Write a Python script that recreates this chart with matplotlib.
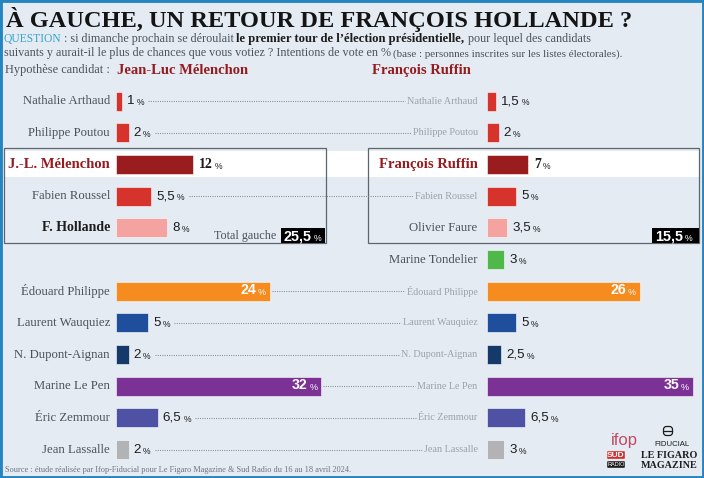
import numpy as np
import matplotlib
matplotlib.use("Agg")
import matplotlib.pyplot as plt
from matplotlib.patches import Rectangle, FancyBboxPatch

W, H = 704, 478

SANS = "Liberation Sans"
SERIF = "Liberation Serif"

# ─────────────────────────────────────────────
# DATA
# ─────────────────────────────────────────────
left_candidate  = "Jean-Luc Mélenchon"
right_candidate = "François Ruffin"

left_names = ["Nathalie Arthaud", "Philippe Poutou", "J.-L. Mélenchon", "Fabien Roussel",
              "F. Hollande", "", "Édouard Philippe", "Laurent Wauquiez", "N. Dupont-Aignan",
              "Marine Le Pen", "Éric Zemmour", "Jean Lassalle"]
left_values = [1, 2, 12, 5.5, 8, np.nan, 24, 5, 2, 32, 6.5, 2]

right_names = ["Nathalie Arthaud", "Philippe Poutou", "François Ruffin", "Fabien Roussel",
               "Olivier Faure", "Marine Tondelier", "Édouard Philippe", "Laurent Wauquiez",
               "N. Dupont-Aignan", "Marine Le Pen", "Éric Zemmour", "Jean Lassalle"]
right_values = [1.5, 2, 7, 5, 3.5, 3, 26, 5, 2.5, 35, 6.5, 3]

row_colors = ["#d7332d", "#d7332d", "#991c1f", "#d7332d", "#f5a3a1", "#4fb84a",
              "#f68b1f", "#1f4e9c", "#153a69", "#7b3294", "#4f51a4", "#b1b3b6"]

left_total  = 25.5
right_total = 15.5

# ─────────────────────────────────────────────
# STYLE
# ─────────────────────────────────────────────
BG    = "#e4ebf3"
FRAME = "#2485c0"
GREY  = "#4d5259"
LIGHT = "#9aa3ad"
RED   = "#961b1f"
TEAL  = "#39a3cc"
DARK  = "#1c1c1c"

TOP_PX, BOT_PX = 85.2, 465.5
HIGHLIGHT = 2       # candidate row
BOLD_ROWS = [2, 4]  # bold names on the left


def fmt(v):
    return f"{v:g}".replace(".", ",")


fig = plt.figure(figsize=(W / 100, H / 100), dpi=100, facecolor=BG)
renderer = fig.canvas.get_renderer()

ax0 = fig.add_axes([0, 0, 1, 1], zorder=-1)
ax0.set_xlim(0, W)
ax0.set_ylim(H, 0)
ax0.axis("off")


def fit(text, target_px, size=10, **kw):
    """font size so that text is target_px wide"""
    t = ax0.text(0, 0, text, fontsize=size, **kw)
    w = t.get_window_extent(renderer).width
    t.remove()
    return size * target_px / w


Q_BOLD = "le premier tour de l’élection présidentielle,"

S_NAME  = fit("Nathalie Arthaud", 88, family=SERIF)
S_HYP   = fit("Hypothèse candidat :", 105, family=SERIF)
S_Q     = fit("suivants y aurait-il le plus de chances que vous votiez ? Intentions de vote en %", 387, family=SERIF)
S_QS    = fit("(base : personnes inscrites sur les listes électorales).", 228, family=SERIF)
S_QB    = fit(Q_BOLD, 230, family=SERIF, weight="bold")
S_GREY  = fit("Nathalie Arthaud", 70, family=SERIF)
S_TITLE = fit("À GAUCHE, UN RETOUR DE FRANÇOIS HOLLANDE ?", 623, family=SERIF, weight="bold")
S_SRC   = fit("Source : étude réalisée par Ifop-Fiducial pour Le Figaro Magazine & Sud Radio "
              "du 16 au 18 avril 2024.", 345, family=SERIF)


def bar_axes(x0, px_per_pct):
    ax = fig.add_axes([x0 / W, 1 - BOT_PX / H, px_per_pct * 36 / W, (BOT_PX - TOP_PX) / H])
    ax.set_xlim(0, 36)
    ax.set_ylim(11.5, -0.5)
    ax.axis("off")
    return ax


ax_l = bar_axes(116, 6.42)
ax_r = bar_axes(486.7, 5.9)


def chain(ax, first, parts):
    """place text parts one after the other"""
    t = first
    for s, kw, g in parts:
        t = ax.annotate(s, xy=(1, 0), xycoords=t, xytext=(g, 0), textcoords="offset pixels",
                        ha="left", va="bottom", annotation_clip=False, **kw)
    return t


def value_label(ax, i, v, bold):
    s = fmt(v)
    if v > 20:
        pct = ax.annotate("%", xy=(v, i), xytext=(-4, -1), textcoords="offset pixels",
                          ha="right", va="center", fontsize=6.5, color="white",
                          family=SANS, annotation_clip=False)
        ax.annotate(s, xy=(0, 0), xycoords=pct, xytext=(-2, 0), textcoords="offset pixels",
                    ha="right", va="bottom", fontsize=10.2, color="white", weight="bold",
                    family=SANS, annotation_clip=False)
        return None
    if bold:
        num = ax.annotate(s, xy=(v, i), xytext=(6, 0), textcoords="offset pixels",
                          ha="left", va="center", fontsize=10, color=DARK, weight="bold",
                          family=SERIF, annotation_clip=False)
    else:
        num = ax.annotate(s, xy=(v, i), xytext=(5, 0), textcoords="offset pixels",
                          ha="left", va="center", fontsize=9.6, color=DARK,
                          family=SANS, annotation_clip=False)
    return chain(ax, num, [("%", dict(fontsize=6.2, color=DARK, family=SANS), 2)])


# white band + boxes around the candidate block
ax0.add_patch(Rectangle((4, 151), 695, 26, facecolor="white", edgecolor="none", zorder=0))
ax0.add_patch(Rectangle((4, 148), 322, 95, facecolor="none", edgecolor="#5d6670", lw=0.9, zorder=2))
ax0.add_patch(Rectangle((368, 148), 331, 95, facecolor="none", edgecolor="#5d6670", lw=0.9, zorder=2))

# left panel
left_ends = {}
for i, (name, v, c) in enumerate(zip(left_names, left_values, row_colors)):
    if np.isnan(v):
        continue
    ax_l.barh(i, v, height=0.6, color=c, edgecolor="white", linewidth=0.4)
    if i == HIGHLIGHT:
        kw = dict(fontsize=10.5, color=RED, weight="bold", family=SERIF)
    elif i in BOLD_ROWS:
        kw = dict(fontsize=10, color=DARK, weight="bold", family=SERIF)
    else:
        kw = dict(fontsize=S_NAME, color=GREY, family=SERIF)
    ax_l.annotate(name, xy=(0, i), xytext=(-6, 0), textcoords="offset pixels",
                  ha="right", va="center", annotation_clip=False, **kw)
    left_ends[i] = value_label(ax_l, i, v, i == HIGHLIGHT)

# right panel
right_labels = {}
for i, (name, v, c) in enumerate(zip(right_names, right_values, row_colors)):
    ax_r.barh(i, v, height=0.6, color=c, edgecolor="white", linewidth=0.4)
    if i == HIGHLIGHT:
        kw = dict(fontsize=10.5, color=RED, weight="bold", family=SERIF)
    elif name == left_names[i]:
        kw = dict(fontsize=S_GREY, color=LIGHT, family=SERIF)
    else:
        kw = dict(fontsize=S_NAME, color=GREY, family=SERIF)
    right_labels[i] = ax_r.annotate(name, xy=(0, i), xytext=(-9, 0), textcoords="offset pixels",
                                    ha="right", va="center", annotation_clip=False, **kw)
    value_label(ax_r, i, v, i == HIGHLIGHT)

# totals
ax0.text(276, 236, "Total gauche", ha="right", va="center", fontsize=S_NAME * 0.95,
         color=GREY, family=SERIF)
for x0, w, tot in [(281, 44, left_total), (652, 47, right_total)]:
    ax0.add_patch(Rectangle((x0, 228), w, 15, facecolor="black", edgecolor="none", zorder=3))
    t = ax0.text(x0 + 3, 236, fmt(tot), ha="left", va="center", fontsize=10.4, color="white",
                 weight="bold", family=SANS, zorder=4)
    chain(ax0, t, [("%", dict(fontsize=6.3, color="white", family=SANS, zorder=4), 2)])

# title and question
ax0.text(6, 27, "À GAUCHE, UN RETOUR DE FRANÇOIS HOLLANDE ?", ha="left", va="baseline",
         fontsize=S_TITLE, weight="bold", family=SERIF, color="#141414")
q1 = ax0.text(4, 45, "QUESTION", ha="left", va="bottom", fontsize=S_Q * 0.95, color=TEAL, family=SERIF)
chain(ax0, q1, [
    (": si dimanche prochain se déroulait", dict(fontsize=S_Q, color=GREY, family=SERIF), 2),
    (Q_BOLD, dict(fontsize=S_QB, color=DARK, weight="bold", family=SERIF), 3),
    ("pour lequel des candidats", dict(fontsize=S_Q, color=GREY, family=SERIF), 3),
])
q2 = ax0.text(4, 59, "suivants y aurait-il le plus de chances que vous votiez ? Intentions de vote en %",
              ha="left", va="bottom", fontsize=S_Q, color=GREY, family=SERIF)
chain(ax0, q2, [("(base : personnes inscrites sur les listes électorales).",
                 dict(fontsize=S_QS, color=GREY, family=SERIF), 2)])

ax0.text(5, 70, "Hypothèse candidat :", ha="left", va="center", fontsize=S_HYP, color=GREY, family=SERIF)
ax0.text(117, 70, left_candidate, ha="left", va="center", fontsize=10.5, color=RED,
         weight="bold", family=SERIF)
ax0.text(372, 70, right_candidate, ha="left", va="center", fontsize=10.5, color=RED,
         weight="bold", family=SERIF)

# source + logos
ax0.text(5, 470, "Source : étude réalisée par Ifop-Fiducial pour Le Figaro Magazine & Sud Radio "
         "du 16 au 18 avril 2024.", ha="left", va="center", fontsize=S_SRC, color="#6d7480", family=SERIF)
ax0.text(624, 441, "ifop", ha="center", va="center", fontsize=12, color="#c24a62", family=SANS)
ax0.add_patch(FancyBboxPatch((664, 427), 8, 8, boxstyle="round,pad=0.5,rounding_size=3",
                             fc="none", ec=DARK, lw=0.9))
ax0.plot([664, 672], [431, 431], color=DARK, lw=0.9)
ax0.text(672, 444, "FIDUCIAL", ha="center", va="center", fontsize=5.6, color=DARK, family=SANS)
ax0.add_patch(FancyBboxPatch((608, 452), 16, 6, boxstyle="round,pad=0.8", fc="#d42a2a", ec="none"))
ax0.add_patch(FancyBboxPatch((608, 462), 16, 5, boxstyle="round,pad=0.8", fc="#1b1b1b", ec="none"))
ax0.text(616, 455.3, "SUD", ha="center", va="center", fontsize=6, color="white", weight="bold", family=SANS)
ax0.text(616, 464.7, "RADIO", ha="center", va="center", fontsize=4, color="white", family=SANS)
ax0.text(669, 456, "LE FIGARO", ha="center", va="center", fontsize=7.3, color=DARK,
         weight="bold", family=SERIF)
ax0.text(669, 466, "MAGAZINE", ha="center", va="center", fontsize=7.3, color=DARK,
         weight="bold", family=SERIF)

# frame
fig.add_artist(Rectangle((0, 0), 1, 1, transform=fig.transFigure, fill=False,
                         edgecolor=FRAME, lw=3.5))

# dotted leaders between the two panels, measured after layout
fig.canvas.draw()
for i in range(len(left_names)):
    if left_names[i] != right_names[i] or np.isnan(left_values[i]):
        continue
    y = H - ax_l.transData.transform((0, i))[1]
    if left_ends[i] is None:
        xs = ax_l.transData.transform((left_values[i], i))[0] + 2
    else:
        xs = left_ends[i].get_window_extent(renderer).x1 + 4
    xe = right_labels[i].get_window_extent(renderer).x0 - 2
    ax0.plot([xs, xe], [y, y], color="#868f9a", lw=0.75, ls=(0, (1, 1.2)))

fig.savefig("out.png", dpi=100, facecolor=BG)
